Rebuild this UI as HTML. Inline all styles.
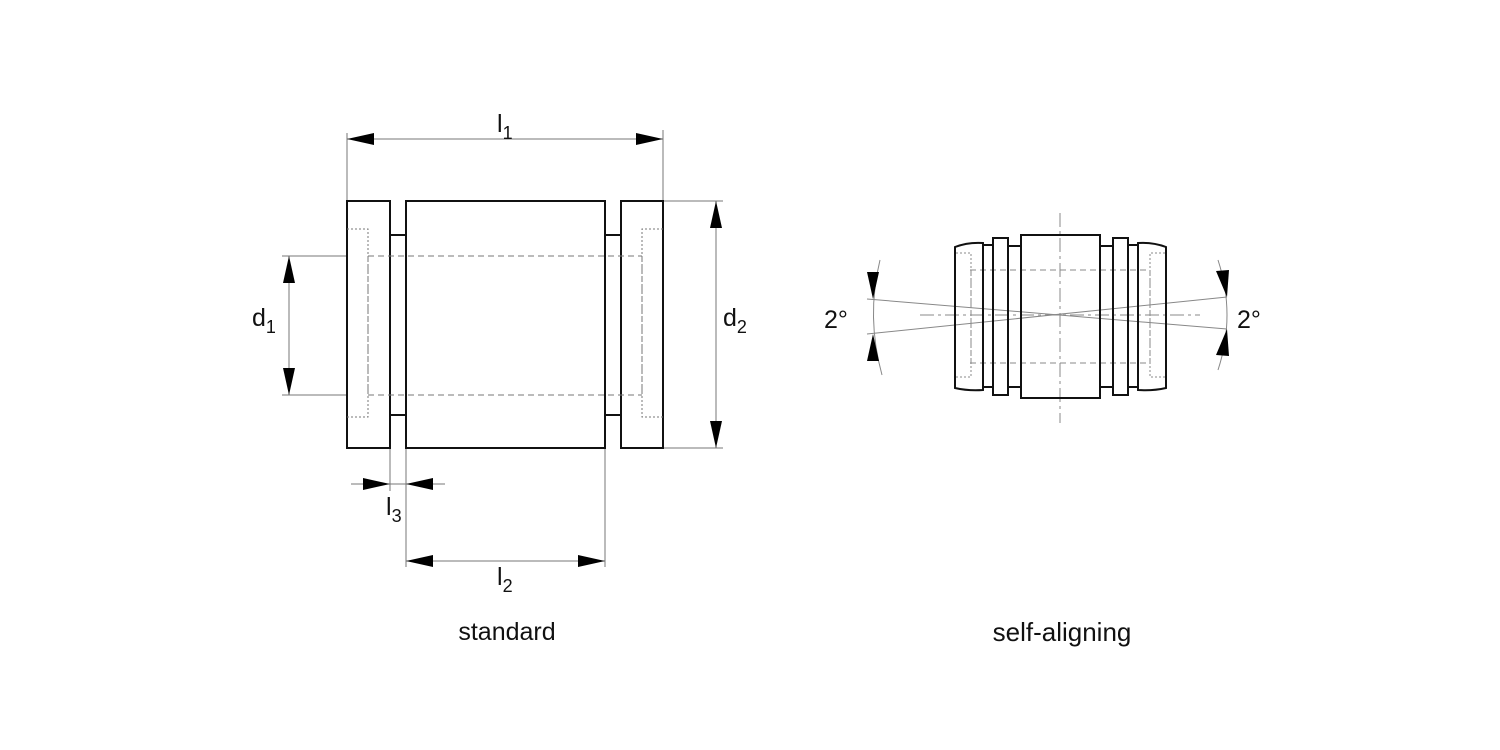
<!DOCTYPE html>
<html><head><style>body{margin:0;background:#fff}svg{display:block}text{font-family:"Liberation Sans",Arial,sans-serif;fill:#111}</style></head>
<body>
<svg width="1500" height="750" viewBox="0 0 1500 750" xmlns="http://www.w3.org/2000/svg">
<g fill="none" stroke="#777" stroke-width="1">
<line x1="347" y1="133" x2="347" y2="201"/><line x1="663" y1="130" x2="663" y2="201"/>
<line x1="663" y1="201" x2="723" y2="201"/><line x1="663" y1="448" x2="723" y2="448"/>
<line x1="282" y1="256" x2="347" y2="256"/><line x1="282" y1="395" x2="347" y2="395"/>
<line x1="390" y1="448" x2="390" y2="491"/><line x1="406" y1="448" x2="406" y2="567"/>
<line x1="605" y1="448" x2="605" y2="567"/>
<line x1="347" y1="139" x2="663" y2="139"/>
<line x1="716" y1="201" x2="716" y2="448"/>
<line x1="289" y1="256" x2="289" y2="395"/>
<line x1="351" y1="484" x2="445" y2="484"/>
<line x1="406" y1="561" x2="605" y2="561"/>
</g>
<g fill="#000">
<polygon points="347,139 374,133 374,145"/><polygon points="663,139 636,133 636,145"/>
<polygon points="716,201 710,228 722,228"/><polygon points="716,448 710,421 722,421"/>
<polygon points="289,256 283,283 295,283"/><polygon points="289,395 283,368 295,368"/>
<polygon points="390,484 363,478 363,490"/><polygon points="406,484 433,478 433,490"/>
<polygon points="406,561 433,555 433,567"/><polygon points="605,561 578,555 578,567"/>
</g>
<g fill="none" stroke="#111" stroke-width="2">
<rect x="347" y="201" width="43" height="247"/>
<rect x="621" y="201" width="42" height="247"/>
<rect x="406" y="201" width="199" height="247"/>
<line x1="390" y1="235" x2="406" y2="235"/><line x1="390" y1="415" x2="406" y2="415"/>
<line x1="605" y1="235" x2="621" y2="235"/><line x1="605" y1="415" x2="621" y2="415"/>
</g>
<g fill="none" stroke="#777" stroke-width="1">
<polyline points="347,229 368,229 368,417 347,417" stroke-dasharray="2,2"/>
<polyline points="663,229 642,229 642,417 663,417" stroke-dasharray="2,2"/>
<line x1="368" y1="256" x2="642" y2="256" stroke-dasharray="6,4"/>
<line x1="368" y1="395" x2="642" y2="395" stroke-dasharray="6,4"/>
<line x1="368" y1="256" x2="368" y2="395" stroke-dasharray="6,4"/>
<line x1="642" y1="256" x2="642" y2="395" stroke-dasharray="6,4"/>
</g>
<text x="497" y="132" font-size="25">l<tspan font-size="18" dy="7">1</tspan></text>
<text x="252" y="326" font-size="25">d<tspan font-size="18" dy="7">1</tspan></text>
<text x="723" y="326" font-size="25">d<tspan font-size="18" dy="7">2</tspan></text>
<text x="386" y="515" font-size="25">l<tspan font-size="18" dy="7">3</tspan></text>
<text x="497" y="585" font-size="25">l<tspan font-size="18" dy="7">2</tspan></text>
<text x="507" y="640" font-size="25" text-anchor="middle">standard</text>
<g fill="none" stroke="#888" stroke-width="1">
<line x1="1060" y1="213" x2="1060" y2="423" stroke-dasharray="14,4,3,4"/>
<line x1="920" y1="315" x2="1200" y2="315" stroke-dasharray="14,4,3,4"/>
<line x1="970" y1="270" x2="1150" y2="270" stroke-dasharray="6,4"/>
<line x1="970" y1="363" x2="1150" y2="363" stroke-dasharray="6,4"/>
<polyline points="956,253 971,253 971,377 956,377" stroke-dasharray="2,2"/>
<polyline points="1165,253 1150,253 1150,377 1165,377" stroke-dasharray="2,2"/>
<line x1="971" y1="270" x2="971" y2="363" stroke-dasharray="6,4"/>
<line x1="1150" y1="270" x2="1150" y2="363" stroke-dasharray="6,4"/>
<line x1="867" y1="299" x2="1227" y2="329"/>
<line x1="867" y1="334" x2="1227" y2="297"/>
<path d="M880,260 Q866,317 882,375"/>
<path d="M1218,260 Q1236,315 1218,370"/>
</g>
<g fill="none" stroke="#111" stroke-width="2">
<path d="M955,247 Q968,242 983,243 L983,390 Q968,391 955,388 Z"/>
<path d="M1166,247 Q1153,242 1138,243 L1138,390 Q1153,391 1166,388 Z"/>
<line x1="983" y1="245" x2="993" y2="245"/><line x1="983" y1="387" x2="993" y2="387"/>
<rect x="993" y="238" width="15" height="157"/>
<line x1="1008" y1="246" x2="1021" y2="246"/><line x1="1008" y1="387" x2="1021" y2="387"/>
<rect x="1021" y="235" width="79" height="163"/>
<line x1="1100" y1="246" x2="1113" y2="246"/><line x1="1100" y1="387" x2="1113" y2="387"/>
<rect x="1113" y="238" width="15" height="157"/>
<line x1="1128" y1="245" x2="1138" y2="245"/><line x1="1128" y1="387" x2="1138" y2="387"/>
</g>
<g fill="#000">
<polygon points="873,299 867,272 879,272"/><polygon points="873,334 867,361 879,361"/>
<polygon points="1227,297 1216,271 1229,270"/><polygon points="1227,329 1216,355 1229,356"/>
</g>
<text x="824" y="328" font-size="25">2°</text>
<text x="1237" y="328" font-size="25">2°</text>
<text x="1062" y="641" font-size="26" text-anchor="middle">self-aligning</text>
</svg>
</body></html>
